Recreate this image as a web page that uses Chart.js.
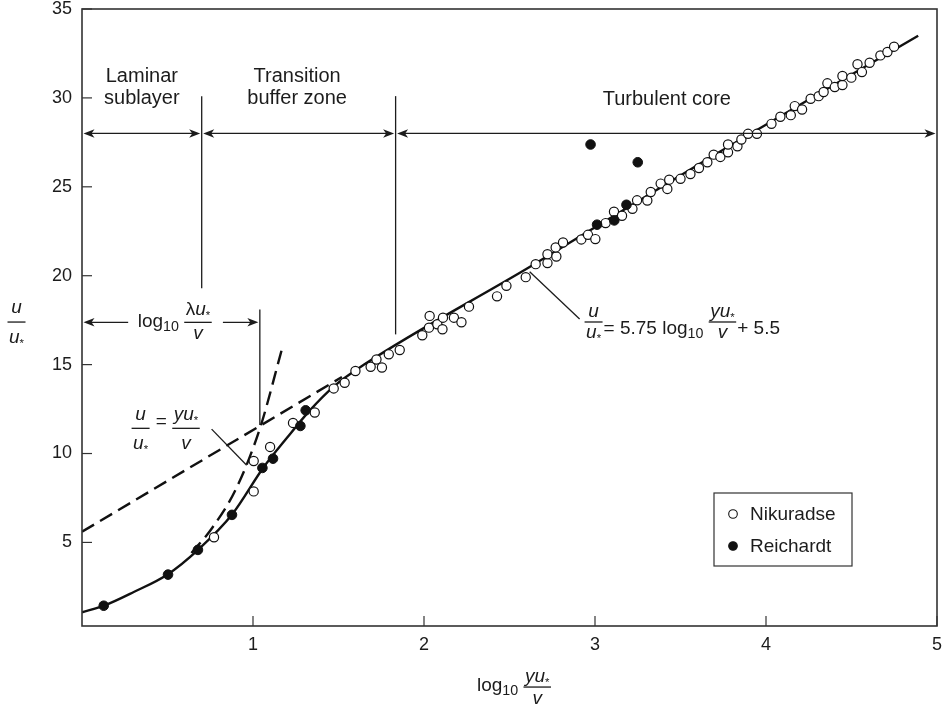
<!DOCTYPE html>
<html>
<head>
<meta charset="utf-8">
<script src="https://cdn.jsdelivr.net/npm/chart.js@4.4.1/dist/chart.umd.min.js"></script>
<style>
  html, body { margin: 0; padding: 0; background: #fff; }
  canvas { display: block; }
</style>
</head>
<body>
<canvas id="chart" width="944" height="708"></canvas>
<script>
// tick values
const xTicks = [1, 2, 3, 4, 5];
const yTicks = [5, 10, 15, 20, 25, 30, 35];

// Nikuradse (open circles)
const nikuradseX = [0.772, 1.004, 1.004, 1.10, 1.234, 1.361, 1.472, 1.536, 1.599, 1.688, 1.722, 1.754, 1.794, 1.858,
  1.990, 2.029, 2.033, 2.078, 2.108, 2.111, 2.175, 2.219, 2.263, 2.427, 2.482, 2.595, 2.653, 2.722, 2.722, 2.774,
  2.770, 2.813, 2.920, 2.959, 3.002, 3.062, 3.111, 3.158, 3.219, 3.246, 3.306, 3.326, 3.384, 3.423, 3.434, 3.50,
  3.558, 3.608, 3.657, 3.694, 3.733, 3.778, 3.778, 3.833, 3.856, 3.895, 3.947, 4.032, 4.084, 4.145, 4.168, 4.211,
  4.261, 4.308, 4.337, 4.359, 4.402, 4.447, 4.447, 4.499, 4.535, 4.561, 4.606, 4.669, 4.71, 4.749];
const nikuradseY = [5.29, 9.58, 7.87, 10.37, 11.72, 12.31, 13.66, 13.98, 14.64, 14.88, 15.29, 14.84, 15.58, 15.82,
  16.65, 17.08, 17.74, 17.27, 16.99, 17.64, 17.64, 17.38, 18.26, 18.84, 19.43, 19.92, 20.65, 20.71, 21.21, 21.08,
  21.59, 21.87, 22.04, 22.30, 22.06, 22.96, 23.6, 23.37, 23.76, 24.24, 24.23, 24.71, 25.18, 24.88, 25.40, 25.45,
  25.72, 26.06, 26.38, 26.81, 26.68, 26.94, 27.38, 27.28, 27.66, 27.98, 27.98, 28.54, 28.94, 29.03, 29.54, 29.35,
  29.95, 30.10, 30.33, 30.82, 30.61, 30.72, 31.23, 31.14, 31.89, 31.45, 31.98, 32.39, 32.58, 32.88];

// Reichardt (filled circles)
const reichardtX = [0.127, 0.503, 0.678, 0.877, 1.055, 1.117, 1.277, 1.308, 2.974, 3.012, 3.113, 3.184, 3.25];
const reichardtY = [1.44, 3.19, 4.58, 6.55, 9.19, 9.71, 11.55, 12.43, 27.38, 22.87, 23.11, 23.99, 26.38];

// solid velocity profile
const curveX = [0, 0.13, 0.3, 0.5, 0.68, 0.88, 1.06, 1.2, 1.33, 1.47, 1.65, 2.62, 3.7, 4.89];
const curveY = [1.07, 1.45, 2.2, 3.2, 4.6, 6.6, 9.2, 10.9, 12.4, 13.75, 15.0, 20.5, 26.8, 33.5];

// dashed log-law extension
const logLawX = [0, 1.52];
const logLawY = [5.6, 14.3];

// dashed u/u* = yu*/v
const linearX = [0.64, 0.76, 0.9, 1.04, 1.17];
const linearY = [4.4, 5.8, 8.0, 11.4, 15.9];

const toPts = (xs, ys) => xs.map((x, i) => ({ x: x, y: ys[i] }));

const FONT = '"Liberation Sans", Arial, Helvetica, sans-serif';
const INK = '#1c1c1c';

const fnt = (size, italic) => (italic ? 'italic ' : '') + size + 'px ' + FONT;

const runsWidth = (ctx, runs, size) => {
    let w = 0;
    runs.forEach(r => {
        ctx.font = fnt(size * (r.k || 1), r.it);
        w += ctx.measureText(r.t).width;
    });
    return w;
};

const drawRuns = (ctx, runs, x, y, size) => {
    runs.forEach(r => {
        ctx.font = fnt(size * (r.k || 1), r.it);
        ctx.fillText(r.t, x, y + (r.dy || 0));
        x += ctx.measureText(r.t).width;
    });
    return x;
};

const drawExpr = (ctx, items, x, barY, o) => {
    ctx.textAlign = 'left';
    ctx.textBaseline = 'alphabetic';
    items.forEach(it => {
        if (it.num) {
            const wn = runsWidth(ctx, it.num, o.size);
            const wd = runsWidth(ctx, it.den, o.size);
            const w = Math.max(wn, wd) + 3;
            ctx.fillRect(x, barY - 0.6, w, 1.3);
            drawRuns(ctx, it.num, x + (w - wn) / 2, barY + o.num, o.size);
            drawRuns(ctx, it.den, x + (w - wd) / 2, barY + o.den, o.size);
            x += w + 1;
        } else {
            x = drawRuns(ctx, it.runs, x, barY + o.text, o.size);
        }
    });
};

const exprWidth = (ctx, items, size) => items.reduce((s, it) => it.num
    ? s + Math.max(runsWidth(ctx, it.num, size), runsWidth(ctx, it.den, size)) + 4
    : s + runsWidth(ctx, it.runs, size), 0);

const U = [{ t: 'u', it: true }];
const USTAR = [{ t: 'u', it: true }, { t: '*', k: 0.6, dy: 4 }];
const YUSTAR = [{ t: 'y', it: true }, { t: 'u', it: true }, { t: '*', k: 0.6, dy: 4 }];
const LUSTAR = [{ t: 'λ' }, { t: 'u', it: true }, { t: '*', k: 0.6, dy: 4 }];
const V = [{ t: 'v', it: true }];

const arrowHead = (ctx, x, y, dir) => {
    ctx.beginPath();
    ctx.moveTo(x, y);
    ctx.lineTo(x - dir * 11, y - 4.2);
    ctx.lineTo(x - dir * 8, y);
    ctx.lineTo(x - dir * 11, y + 4.2);
    ctx.closePath();
    ctx.fill();
};

const annotations = {
    id: 'annotations',
    afterDatasetsDraw(chart) {
        const { ctx, scales: { x, y } } = chart;
        const px = v => x.getPixelForValue(v);
        const py = v => y.getPixelForValue(v);
        ctx.save();
        ctx.strokeStyle = INK;
        ctx.fillStyle = INK;
        ctx.lineWidth = 1.3;

        const line = (x1, y1, x2, y2) => {
            ctx.beginPath();
            ctx.moveTo(x1, y1);
            ctx.lineTo(x2, y2);
            ctx.stroke();
        };

        // region dividers
        [[0.70, 19.3, 30.1], [1.834, 16.7, 30.1], [1.04, 11.6, 18.1]].forEach(d => {
            line(px(d[0]), py(d[1]), px(d[0]), py(d[2]));
        });

        // region arrows
        const ay = py(28);
        [[0, 0.70], [0.70, 1.834], [1.834, 5]].forEach(s => {
            const a = px(s[0]) + 1.5, b = px(s[1]) - 1.5;
            line(a + 4, ay, b - 4, ay);
            arrowHead(ctx, a, ay, -1);
            arrowHead(ctx, b, ay, 1);
        });

        // region labels
        ctx.textAlign = 'center';
        ctx.textBaseline = 'alphabetic';
        ctx.font = fnt(20);
        ctx.fillText('Laminar', px(0.35), py(30.87));
        ctx.fillText('sublayer', px(0.35), py(29.66));
        ctx.fillText('Transition', px(1.258), py(30.87));
        ctx.fillText('buffer zone', px(1.258), py(29.66));
        ctx.fillText('Turbulent core', px(3.42), py(29.6));

        // log10 λu*/v span
        const ly = py(17.38);
        line(px(0) + 5, ly, px(0.27), ly);
        arrowHead(ctx, px(0) + 1.5, ly, -1);
        line(px(0.824), ly, px(1.04) - 5, ly);
        arrowHead(ctx, px(1.04) - 1.5, ly, 1);
        drawExpr(ctx, [
            { runs: [{ t: 'log' }, { t: '10', k: 0.75, dy: 4 }, { t: ' ' }] },
            { num: LUSTAR, den: V }
        ], px(0.326), ly, { size: 19, num: -7, den: 17, text: 5 });

        // u/u* = yu*/v
        line(px(0.758), py(11.37), px(0.963), py(9.34));
        drawExpr(ctx, [
            { num: U, den: USTAR },
            { runs: [{ t: ' = ' }] },
            { num: YUSTAR, den: V }
        ], px(0.29), py(11.42), { size: 19, num: -8, den: 21, text: -1 });

        // log law
        line(px(2.618), py(20.22), px(2.91), py(17.57));
        drawExpr(ctx, [
            { num: U, den: USTAR },
            { runs: [{ t: '= 5.75 log' }, { t: '10', k: 0.75, dy: 4 }, { t: ' ' }] },
            { num: YUSTAR, den: V },
            { runs: [{ t: '+ 5.5' }] }
        ], px(2.939), py(17.4), { size: 19, num: -5, den: 16, text: 12 });

        ctx.restore();
    },
    afterDraw(chart) {
        const { ctx, chartArea: a, scales: { x, y } } = chart;
        ctx.save();
        ctx.strokeStyle = '#333';
        ctx.fillStyle = INK;

        // frame
        ctx.lineWidth = 1.6;
        ctx.strokeRect(a.left, a.top, a.right - a.left, a.bottom - a.top);

        // inward tick marks
        ctx.lineWidth = 1.2;
        xTicks.forEach(v => {
            const p = x.getPixelForValue(v);
            ctx.beginPath(); ctx.moveTo(p, a.bottom); ctx.lineTo(p, a.bottom - 10); ctx.stroke();
        });
        yTicks.forEach(v => {
            const p = y.getPixelForValue(v);
            ctx.beginPath(); ctx.moveTo(a.left, p); ctx.lineTo(a.left + 10, p); ctx.stroke();
        });

        // axis titles
        const xItems = [
            { runs: [{ t: 'log' }, { t: '10', k: 0.75, dy: 4 }, { t: ' ' }] },
            { num: YUSTAR, den: V }
        ];
        drawExpr(ctx, xItems, 477, 687, { size: 19, num: -5, den: 17, text: 4 });
        const yItems = [{ num: U, den: USTAR }];
        const w = exprWidth(ctx, yItems, 19);
        drawExpr(ctx, yItems, 17 - w / 2, 322, { size: 19, num: -9, den: 21, text: 0 });

        // legend
        const lx = a.right - 223, lt = a.top + 484;
        ctx.lineWidth = 1.2;
        ctx.strokeRect(lx, lt, 138, 73);
        const meta = chart.data.datasets;
        [[0, 21], [1, 53]].forEach(([i, dy]) => {
            const ds = meta[i];
            ctx.beginPath();
            ctx.arc(lx + 19, lt + dy, 4.3, 0, Math.PI * 2);
            ctx.fillStyle = ds.backgroundColor;
            ctx.fill();
            ctx.strokeStyle = ds.borderColor;
            ctx.lineWidth = 1.1;
            ctx.stroke();
            ctx.fillStyle = INK;
            ctx.font = fnt(19);
            ctx.textAlign = 'left';
            ctx.textBaseline = 'middle';
            ctx.fillText(ds.label, lx + 36, lt + dy + 1);
        });
        ctx.restore();
    }
};

new Chart(document.getElementById('chart'), {
    type: 'scatter',
    data: {
        datasets: [
            {
                label: 'Nikuradse',
                data: toPts(nikuradseX, nikuradseY),
                backgroundColor: '#fff',
                borderColor: '#111',
                borderWidth: 1.2,
                pointRadius: 4.6,
                order: 1
            },
            {
                label: 'Reichardt',
                data: toPts(reichardtX, reichardtY),
                backgroundColor: '#111',
                borderColor: '#111',
                borderWidth: 1,
                pointRadius: 4.8,
                order: 0
            },
            {
                label: 'profile',
                data: toPts(curveX, curveY),
                showLine: true,
                pointRadius: 0,
                borderColor: '#111',
                borderWidth: 2.4,
                cubicInterpolationMode: 'monotone',
                order: 3
            },
            {
                label: 'log law',
                data: toPts(logLawX, logLawY),
                showLine: true,
                pointRadius: 0,
                borderColor: '#111',
                borderWidth: 2.4,
                borderDash: [14, 7],
                order: 4
            },
            {
                label: 'linear',
                data: toPts(linearX, linearY),
                showLine: true,
                pointRadius: 0,
                borderColor: '#111',
                borderWidth: 2.4,
                borderDash: [14, 7],
                cubicInterpolationMode: 'monotone',
                order: 4
            }
        ]
    },
    options: {
        responsive: false,
        animation: false,
        layout: { padding: { top: 9, right: 7, left: 0, bottom: 0 } },
        plugins: { legend: { display: false }, tooltip: { enabled: false } },
        scales: {
            x: {
                type: 'linear',
                min: 0,
                max: 5,
                grid: { display: false, drawTicks: false },
                border: { display: false },
                ticks: { color: INK, font: { family: FONT, size: 18 }, padding: 8 },
                afterBuildTicks: s => { s.ticks = xTicks.map(v => ({ value: v })); },
                afterFit: s => { s.height = 82; s.paddingLeft = 0; s.paddingRight = 0; }
            },
            y: {
                type: 'linear',
                min: 0.3,
                max: 35,
                grid: { display: false, drawTicks: false },
                border: { display: false },
                ticks: { color: INK, font: { family: FONT, size: 18 }, padding: 10 },
                afterBuildTicks: s => { s.ticks = yTicks.map(v => ({ value: v })); },
                afterFit: s => { s.width = 82; s.paddingTop = 0; s.paddingBottom = 0; }
            }
        }
    },
    plugins: [annotations]
});
</script>
</body>
</html>
